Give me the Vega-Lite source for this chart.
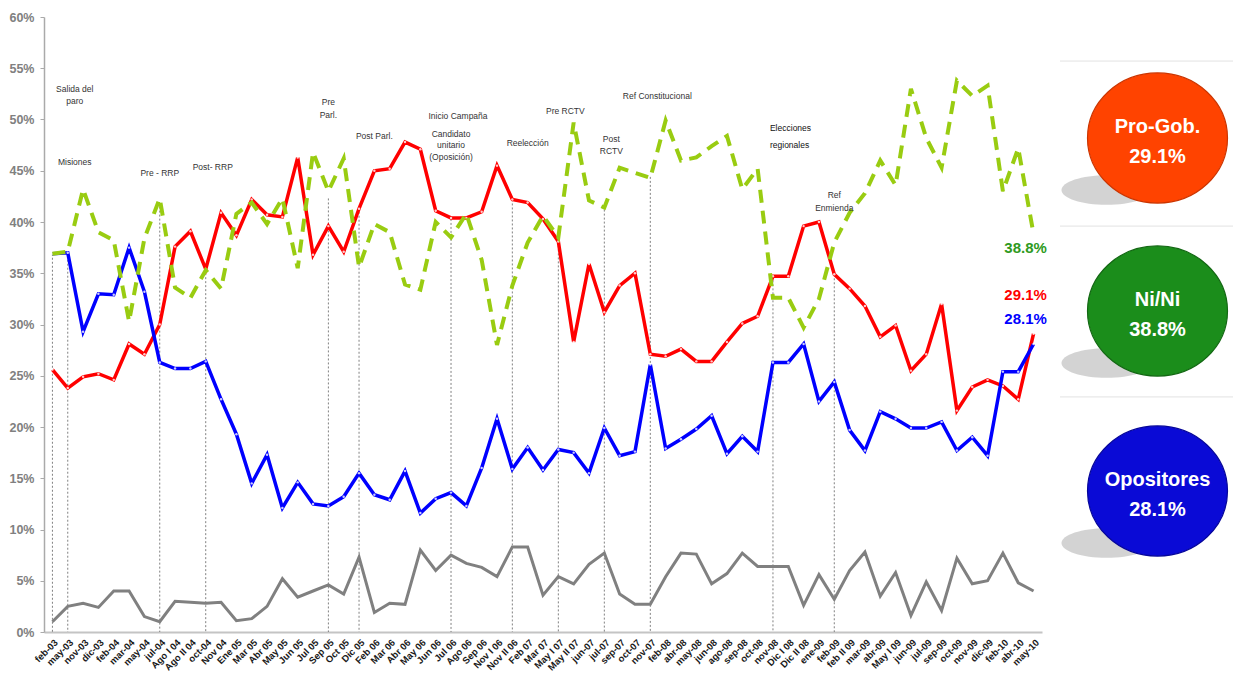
{
  "$schema": "https://vega.github.io/schema/vega-lite/v6.json",
  "autosize": {"type": "pad"},
  "padding": {"left": 8, "top": 11, "right": 0, "bottom": 0},
  "background": "white",
  "spacing": 18,
  "bounds": "flush",
  "resolve": {"scale": {"color": "independent", "stroke": "independent"}},
  "config": {
    "view": {"stroke": null},
    "font": "Liberation Sans",
    "axisX": {"labelAngle": -45, "labelFontSize": 9.5, "labelFontWeight": "bold", "labelColor": "#1a1a1a", "domainColor": "#c4c4c4", "domainWidth": 2, "ticks": false, "labelPadding": 5, "labelOverlap": false, "labelFont": "Liberation Sans", "grid": false},
    "axisY": {"labelFontSize": 12.5, "labelFontWeight": "bold", "labelColor": "#808080", "domainColor": "#aaaaaa", "domainWidth": 1.5, "tickColor": "#aaaaaa", "tickSize": 4, "labelPadding": 6, "grid": false, "tickCount": 12, "labelExpr": "datum.value + '%'", "labelFont": "Liberation Sans"}
  },
  "datasets": {
    "polls": [
      {"m": "feb-03", "pro": 25.6, "nini": 36.9, "opo": 36.9, "ns": 1.0},
      {"m": "may-03", "pro": 23.8, "nini": 37.1, "opo": 37.0, "ns": 2.5},
      {"m": "nov-03", "pro": 24.9, "nini": 43.2, "opo": 29.3, "ns": 2.8},
      {"m": "dic-03", "pro": 25.2, "nini": 39.0, "opo": 33.0, "ns": 2.4},
      {"m": "feb-04", "pro": 24.6, "nini": 38.2, "opo": 32.9, "ns": 4.0},
      {"m": "mar-04", "pro": 28.1, "nini": 30.3, "opo": 37.5, "ns": 4.0},
      {"m": "may-04", "pro": 27.1, "nini": 38.4, "opo": 33.2, "ns": 1.5},
      {"m": "jul-04", "pro": 30.0, "nini": 42.3, "opo": 26.3, "ns": 1.0},
      {"m": "Ago I 04", "pro": 37.6, "nini": 33.6, "opo": 25.7, "ns": 3.0},
      {"m": "Ago II 04", "pro": 39.1, "nini": 32.6, "opo": 25.7, "ns": 2.9},
      {"m": "oct-04", "pro": 35.4, "nini": 35.3, "opo": 26.4, "ns": 2.8},
      {"m": "Nov 04", "pro": 40.9, "nini": 33.5, "opo": 22.7, "ns": 2.9},
      {"m": "Ene 05", "pro": 38.7, "nini": 40.8, "opo": 19.3, "ns": 1.1},
      {"m": "Mar 05", "pro": 42.2, "nini": 41.9, "opo": 14.5, "ns": 1.3},
      {"m": "Abr 05", "pro": 40.7, "nini": 39.8, "opo": 17.3, "ns": 2.5},
      {"m": "May 05", "pro": 40.5, "nini": 42.3, "opo": 12.1, "ns": 5.2},
      {"m": "Jun 05", "pro": 46.3, "nini": 35.5, "opo": 14.6, "ns": 3.4},
      {"m": "Jul 05", "pro": 36.8, "nini": 46.8, "opo": 12.5, "ns": 4.0},
      {"m": "Sep 05", "pro": 39.6, "nini": 43.0, "opo": 12.3, "ns": 4.6},
      {"m": "Oct 05", "pro": 37.1, "nini": 46.2, "opo": 13.2, "ns": 3.7},
      {"m": "Dic 05", "pro": 41.3, "nini": 35.6, "opo": 15.5, "ns": 7.3},
      {"m": "Feb 06", "pro": 45.0, "nini": 39.8, "opo": 13.4, "ns": 1.9},
      {"m": "Mar 06", "pro": 45.2, "nini": 39.0, "opo": 12.9, "ns": 2.8},
      {"m": "Abr 06", "pro": 47.8, "nini": 33.9, "opo": 15.7, "ns": 2.7},
      {"m": "May 06", "pro": 47.1, "nini": 33.4, "opo": 11.6, "ns": 8.0},
      {"m": "Jun 06", "pro": 41.1, "nini": 40.0, "opo": 13.0, "ns": 6.0},
      {"m": "Jul 06", "pro": 40.4, "nini": 38.5, "opo": 13.6, "ns": 7.5},
      {"m": "Ago 06", "pro": 40.4, "nini": 40.8, "opo": 12.3, "ns": 6.7},
      {"m": "Sep 06", "pro": 41.0, "nini": 36.3, "opo": 16.0, "ns": 6.3},
      {"m": "Nov I 06", "pro": 45.5, "nini": 28.0, "opo": 20.8, "ns": 5.4},
      {"m": "Nov II 06", "pro": 42.2, "nini": 33.8, "opo": 15.9, "ns": 8.3},
      {"m": "Feb 07", "pro": 41.9, "nini": 38.0, "opo": 18.0, "ns": 8.3},
      {"m": "Mar 07", "pro": 40.3, "nini": 40.6, "opo": 15.8, "ns": 3.6},
      {"m": "May I 07", "pro": 38.1, "nini": 38.5, "opo": 17.8, "ns": 5.4},
      {"m": "May II 07", "pro": 28.3, "nini": 49.7, "opo": 17.5, "ns": 4.7},
      {"m": "jun-07", "pro": 35.9, "nini": 42.1, "opo": 15.5, "ns": 6.6},
      {"m": "jul-07", "pro": 31.2, "nini": 41.4, "opo": 19.9, "ns": 7.7},
      {"m": "sep-07", "pro": 33.8, "nini": 45.3, "opo": 17.2, "ns": 3.7},
      {"m": "oct-07", "pro": 35.0, "nini": 44.8, "opo": 17.6, "ns": 2.7},
      {"m": "nov-07", "pro": 27.1, "nini": 44.3, "opo": 26.1, "ns": 2.7},
      {"m": "feb-08", "pro": 26.9, "nini": 49.9, "opo": 17.9, "ns": 5.4},
      {"m": "abr-08", "pro": 27.6, "nini": 46.0, "opo": 18.8, "ns": 7.7},
      {"m": "may-08", "pro": 26.4, "nini": 46.3, "opo": 19.8, "ns": 7.6},
      {"m": "jun-08", "pro": 26.4, "nini": 47.4, "opo": 21.1, "ns": 4.7},
      {"m": "ago-08", "pro": 28.3, "nini": 48.4, "opo": 17.4, "ns": 5.7},
      {"m": "sep-08", "pro": 30.1, "nini": 43.2, "opo": 19.1, "ns": 7.7},
      {"m": "oct-08", "pro": 30.8, "nini": 45.2, "opo": 17.6, "ns": 6.4},
      {"m": "nov-08", "pro": 34.7, "nini": 32.6, "opo": 26.3, "ns": 6.4},
      {"m": "Dic I 08", "pro": 34.7, "nini": 32.6, "opo": 26.3, "ns": 6.4},
      {"m": "Dic II 08", "pro": 39.6, "nini": 29.7, "opo": 28.1, "ns": 2.6},
      {"m": "ene-09", "pro": 40.0, "nini": 32.5, "opo": 22.5, "ns": 5.6},
      {"m": "feb-09", "pro": 34.9, "nini": 38.0, "opo": 24.4, "ns": 3.2},
      {"m": "feb II 09", "pro": 33.5, "nini": 40.9, "opo": 19.7, "ns": 6.0},
      {"m": "mar-09", "pro": 31.8, "nini": 42.8, "opo": 17.7, "ns": 7.8},
      {"m": "abr-09", "pro": 28.8, "nini": 46.0, "opo": 21.5, "ns": 3.5},
      {"m": "May I 09", "pro": 29.9, "nini": 43.6, "opo": 20.8, "ns": 5.8},
      {"m": "jun-09", "pro": 25.5, "nini": 53.0, "opo": 19.9, "ns": 1.6},
      {"m": "jul-09", "pro": 27.1, "nini": 48.2, "opo": 19.9, "ns": 4.9},
      {"m": "sep-09", "pro": 32.0, "nini": 45.3, "opo": 20.5, "ns": 2.1},
      {"m": "oct-09", "pro": 21.6, "nini": 53.8, "opo": 17.7, "ns": 7.2},
      {"m": "nov-09", "pro": 23.9, "nini": 52.3, "opo": 19.0, "ns": 4.7},
      {"m": "dic-09", "pro": 24.6, "nini": 53.3, "opo": 17.2, "ns": 5.0},
      {"m": "feb-10", "pro": 24.0, "nini": 43.0, "opo": 25.4, "ns": 7.7},
      {"m": "abr-10", "pro": 22.7, "nini": 47.2, "opo": 25.4, "ns": 4.8},
      {"m": "may-10", "pro": 29.1, "nini": 38.8, "opo": 28.1, "ns": 4.0}
    ],
    "events": [
      {"m": "feb-03", "top": 36.9},
      {"m": "may-03", "top": 37.1},
      {"m": "jul-04", "top": 41.5},
      {"m": "oct-04", "top": 35.4},
      {"m": "Sep 05", "top": 42.3},
      {"m": "Dic 05", "top": 41.0},
      {"m": "Jul 06", "top": 40.3},
      {"m": "Nov II 06", "top": 42.2},
      {"m": "May I 07", "top": 38.5},
      {"m": "jul-07", "top": 41.6},
      {"m": "nov-07", "top": 44.4},
      {"m": "nov-08", "top": 34.7},
      {"m": "feb-09", "top": 34.9}
    ],
    "notes": [
      {"m": "may-03", "y": 53.0, "t": "Salida del"},
      {"m": "may-03", "y": 51.8, "t": "paro"},
      {"m": "may-03", "y": 45.9, "t": "Misiones"},
      {"m": "jul-04", "y": 44.8, "t": "Pre - RRP"},
      {"m": "oct-04", "y": 45.4, "t": "Post- RRP"},
      {"m": "Sep 05", "y": 51.7, "t": "Pre"},
      {"m": "Sep 05", "y": 50.4, "t": "Parl."},
      {"m": "Feb 06", "y": 48.4, "t": "Post Parl."},
      {"m": "Jul 06", "y": 50.3, "t": "Inicio Campaña"},
      {"m": "Jul 06", "y": 48.6, "t": "Candidato"},
      {"m": "Jul 06", "y": 47.5, "t": "unitario"},
      {"m": "Jul 06", "y": 46.3, "t": "(Oposición)"},
      {"m": "Feb 07", "y": 47.7, "t": "Reelección"},
      {"m": "May I 07", "y": 50.8, "t": "Pre RCTV"},
      {"m": "jul-07", "y": 48.1, "t": "Post"},
      {"m": "jul-07", "y": 46.9, "t": "RCTV"},
      {"m": "nov-07", "y": 52.3, "t": "Ref Constitucional"},
      {"m": "nov-08", "y": 49.2, "t": "Elecciones"},
      {"m": "nov-08", "y": 47.5, "t": "regionales"},
      {"m": "feb-09", "y": 42.6, "t": "Ref"},
      {"m": "feb-09", "y": 41.4, "t": "Enmienda"}
    ],
    "ends": [
      {"m": "may-10", "y": 37.5, "t": "38.8%", "s": "nini"},
      {"m": "may-10", "y": 32.9, "t": "29.1%", "s": "pro"},
      {"m": "may-10", "y": 30.5, "t": "28.1%", "s": "opo"}
    ],
    "legend": [
      {"k": "Pro-Gob.", "slot": 1, "label": ["Pro-Gob.", "29.1%"]},
      {"k": "Ni/Ni", "slot": 1.98, "label": ["Ni/Ni", "38.8%"]},
      {"k": "Opositores", "slot": 3, "label": ["Opositores", "28.1%"]}
    ],
    "seps": [
      {"sep": 0.564},
      {"sep": 1.499},
      {"sep": 2.467}
    ]
  },
  "hconcat": [
    {
      "width": 998,
      "height": 615,
      "layer": [
        {
          "data": {"name": "events"},
          "mark": {"type": "rule", "color": "#808080", "strokeWidth": 1, "strokeDash": [2, 2]},
          "encoding": {
            "x": {"field": "m", "type": "ordinal", "title": null,
              "scale": {"type": "point", "padding": 0.55, "domain": ["feb-03","may-03","nov-03","dic-03","feb-04","mar-04","may-04","jul-04","Ago I 04","Ago II 04","oct-04","Nov 04","Ene 05","Mar 05","Abr 05","May 05","Jun 05","Jul 05","Sep 05","Oct 05","Dic 05","Feb 06","Mar 06","Abr 06","May 06","Jun 06","Jul 06","Ago 06","Sep 06","Nov I 06","Nov II 06","Feb 07","Mar 07","May I 07","May II 07","jun-07","jul-07","sep-07","oct-07","nov-07","feb-08","abr-08","may-08","jun-08","ago-08","sep-08","oct-08","nov-08","Dic I 08","Dic II 08","ene-09","feb-09","feb II 09","mar-09","abr-09","May I 09","jun-09","jul-09","sep-09","oct-09","nov-09","dic-09","feb-10","abr-10","may-10"]}},
            "y": {"field": "top", "type": "quantitative", "title": null, "scale": {"domain": [0, 60], "nice": false}},
            "y2": {"datum": 0}
          }
        },
        {
          "data": {"name": "polls"},
          "mark": {"type": "line", "color": "#808080", "strokeWidth": 3},
          "encoding": {
            "x": {"field": "m", "type": "ordinal", "title": null},
            "y": {"field": "ns", "type": "quantitative", "title": null}
          }
        },
        {
          "data": {"name": "polls"},
          "mark": {"type": "line", "color": "#ff0000", "strokeWidth": 3.5, "point": {"filled": true, "fill": "#ffffff", "size": 6, "opacity": 0.8}},
          "encoding": {
            "x": {"field": "m", "type": "ordinal", "title": null},
            "y": {"field": "pro", "type": "quantitative", "title": null}
          }
        },
        {
          "data": {"name": "polls"},
          "mark": {"type": "line", "color": "#0000ff", "strokeWidth": 3.5, "point": {"filled": true, "fill": "#ffffff", "size": 6, "opacity": 0.8}},
          "encoding": {
            "x": {"field": "m", "type": "ordinal", "title": null},
            "y": {"field": "opo", "type": "quantitative", "title": null}
          }
        },
        {
          "data": {"name": "polls"},
          "mark": {"type": "line", "color": "#99cc11", "strokeWidth": 4, "strokeDash": [13, 8]},
          "encoding": {
            "x": {"field": "m", "type": "ordinal", "title": null},
            "y": {"field": "nini", "type": "quantitative", "title": null}
          }
        },
        {
          "data": {"name": "notes"},
          "transform": [{"filter": {"field": "t", "oneOf": ["Salida del", "paro", "Misiones", "Post- RRP", "Inicio Campaña", "Pre RCTV", "Post", "RCTV", "Ref Constitucional"]}}],
          "mark": {"type": "text", "fontSize": 8.5, "color": "#333333", "dx": 7, "baseline": "middle", "font": "Liberation Sans"},
          "encoding": {
            "x": {"field": "m", "type": "ordinal", "title": null},
            "y": {"field": "y", "type": "quantitative", "title": null},
            "text": {"field": "t"}
          }
        },
        {
          "data": {"name": "notes"},
          "transform": [{"filter": {"field": "t", "oneOf": ["Pre - RRP", "Pre", "Parl.", "Post Parl.", "Candidato", "unitario", "(Oposición)", "Reelección", "Ref", "Enmienda"]}}],
          "mark": {"type": "text", "fontSize": 8.5, "color": "#333333", "baseline": "middle", "font": "Liberation Sans"},
          "encoding": {
            "x": {"field": "m", "type": "ordinal", "title": null},
            "y": {"field": "y", "type": "quantitative", "title": null},
            "text": {"field": "t"}
          }
        },
        {
          "data": {"name": "notes"},
          "transform": [{"filter": {"field": "t", "oneOf": ["Elecciones", "regionales"]}}],
          "mark": {"type": "text", "fontSize": 8.5, "color": "#111111", "align": "left", "dx": -3, "baseline": "middle", "font": "Liberation Sans"},
          "encoding": {
            "x": {"field": "m", "type": "ordinal", "title": null},
            "y": {"field": "y", "type": "quantitative", "title": null},
            "text": {"field": "t"}
          }
        },
        {
          "data": {"name": "ends"},
          "mark": {"type": "text", "fontSize": 15, "fontWeight": "bold", "dx": -8, "baseline": "middle", "font": "Liberation Sans"},
          "encoding": {
            "x": {"field": "m", "type": "ordinal", "title": null},
            "y": {"field": "y", "type": "quantitative", "title": null},
            "text": {"field": "t"},
            "color": {"field": "s", "type": "nominal", "legend": null, "scale": {"domain": ["nini", "pro", "opo"], "range": ["#2e9a22", "#ff0000", "#0000ff"]}}
          }
        }
      ]
    },
    {
      "width": 173,
      "height": 615,
      "layer": [
        {
          "data": {"name": "seps"},
          "mark": {"type": "rule", "color": "#e2e2e2", "strokeWidth": 1},
          "encoding": {
            "y": {"field": "sep", "type": "quantitative", "axis": null, "scale": {"domain": [0.3144, 3.7988], "reverse": true, "nice": false, "zero": false}}
          }
        },
        {
          "data": {"name": "legend"},
          "mark": {"type": "point", "filled": true, "color": "#c4c4c4", "opacity": 0.75, "shape": "M -1 0 A 1 0.33 0 1 1 1 0 A 1 0.33 0 1 1 -1 0 Z", "size": 8100, "xOffset": -40, "yOffset": 52},
          "encoding": {
            "y": {"field": "slot", "type": "quantitative", "axis": null}
          }
        },
        {
          "data": {"name": "legend"},
          "mark": {"type": "point", "filled": true, "opacity": 1, "shape": "M -1 0 A 1 0.93 0 1 1 1 0 A 1 0.93 0 1 1 -1 0 Z", "size": 19600, "xOffset": 11, "strokeWidth": 1.2},
          "encoding": {
            "y": {"field": "slot", "type": "quantitative", "axis": null},
            "color": {"field": "k", "type": "nominal", "legend": null, "scale": {"domain": ["Pro-Gob.", "Ni/Ni", "Opositores"], "range": ["#ff4300", "#1b8d1b", "#0a0ad6"]}},
            "stroke": {"field": "k", "type": "nominal", "legend": null, "scale": {"domain": ["Pro-Gob.", "Ni/Ni", "Opositores"], "range": ["#cc3500", "#136813", "#06069a"]}}
          }
        },
        {
          "data": {"name": "legend"},
          "mark": {"type": "text", "color": "#ffffff", "fontSize": 20, "fontWeight": "bold", "lineHeight": 30, "baseline": "middle", "dy": -11, "xOffset": 11, "font": "Liberation Sans"},
          "encoding": {
            "y": {"field": "slot", "type": "quantitative", "axis": null},
            "text": {"field": "label"}
          }
        }
      ]
    }
  ]
}
